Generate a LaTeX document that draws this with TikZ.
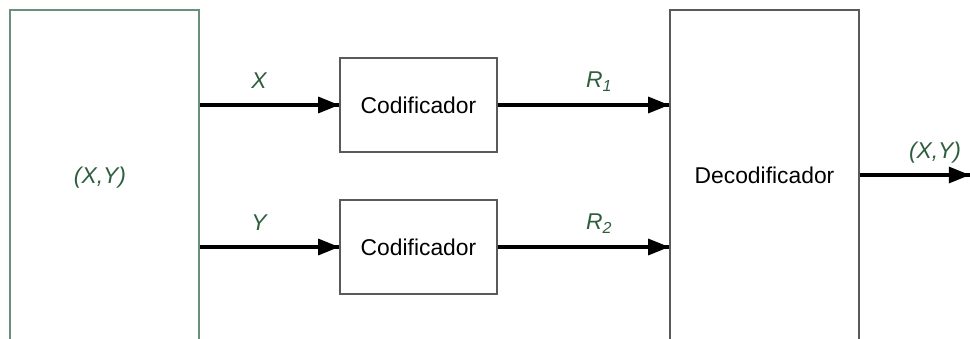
\documentclass[tikz,border=0pt]{standalone}
\usepackage{fontspec}
\setmainfont{Liberation Sans}
\usepackage{tikz}
\usetikzlibrary{arrows.meta}
\usetikzlibrary{decorations.markings}
\usetikzlibrary{positioning}
\tikzset{flow/.style = {line width=2pt,
                        decoration={markings,
                                    mark=at position 1 with {\arrow{Triangle[length=12pt, width=9pt]}}},
                        postaction={decorate}},
         block/.style = {draw=mgray, line width=0.8pt, minimum width=3.14cm, minimum height=1.88cm,
                         inner sep=0pt, font=\fontsize{13}{15}\selectfont},
         tall/.style = {block, minimum width=3.78cm, minimum height=10cm},
         lab/.style = {text=mgreen, font=\fontsize{13}{15}\selectfont\itshape, inner sep=0pt}}
\definecolor{mgreen}{RGB}{46, 94, 62}
\definecolor{mborder}{RGB}{106, 143, 122}
\definecolor{mgray}{RGB}{90, 90, 90}

\begin{document}
\begin{tikzpicture}[x=0.02cm, y=-0.02cm]
    \clip (0, 0) rectangle (970, 338);

    % source and decoder, cut off at the bottom
    \node [tall, draw=mborder] (src) at (104.5, 260) {};
    \node [tall] (dec) at (764.5, 260) {};
    \node [lab] (srclabel) at (100, 178) {(X,Y)};
    \node [block, draw=none] (declabel) at (764.5, 175) {Decodificador};

    % encoders
    \node [block] (enc1) at (418.5, 105) {Codificador};
    \node [block] (enc2) at (418.5, 247) {Codificador};

    \coordinate (out) at (970, 175);

    \draw [flow] (src.east |- enc1.west) -- (enc1.west) node [lab, midway, anchor=base, yshift=9.6pt, xshift=-6pt] (xlabel) {X};
    \draw [flow] (src.east |- enc2.west) -- (enc2.west) node [lab, midway, anchor=base, yshift=9.6pt, xshift=-6pt] (ylabel) {Y};
    \draw [flow] (enc1.east) -- (dec.west |- enc1.east) node [lab, midway, anchor=base, yshift=10pt, xshift=9pt] (r1label) {R\textsubscript{1}};
    \draw [flow] (enc2.east) -- (dec.west |- enc2.east) node [lab, midway, anchor=base, yshift=10pt, xshift=9pt] (r2label) {R\textsubscript{2}};
    \draw [flow] (dec.east |- declabel) -- (out) node [lab, midway, anchor=base, yshift=9.6pt, xshift=11.5pt] (outlabel) {(X,Y)};
  \end{tikzpicture}
\end{document}
